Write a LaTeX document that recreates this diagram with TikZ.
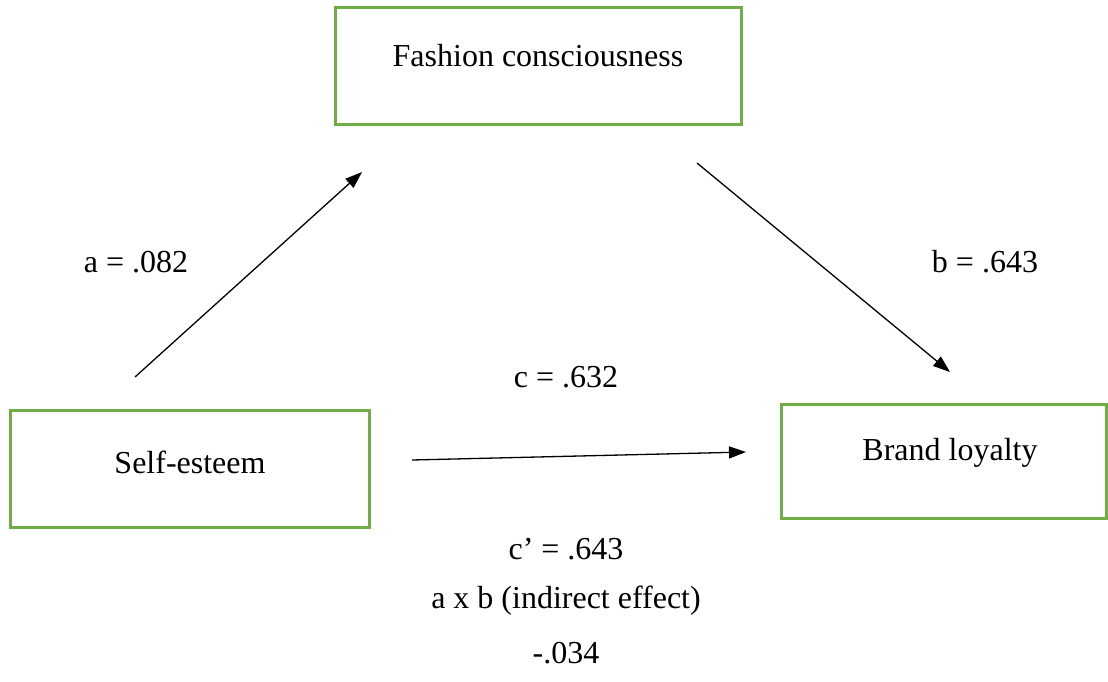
\documentclass[tikz,border=0pt]{standalone}
\usepackage{fontspec}
\setmainfont{Liberation Serif}
\usetikzlibrary{arrows.meta}
\definecolor{boxgreen}{RGB}{112,173,71}
\begin{document}
\begin{tikzpicture}[x=1pt,y=-1pt,
  varbox/.style={draw=boxgreen,line width=3pt,fill=white},
  txt/.style={font=\fontsize{32}{38}\selectfont,inner sep=0pt},
  arr/.style={line width=1.3pt,-{Triangle[length=17pt,width=12pt]}}]
\useasboundingbox (0,0) rectangle (1108,681);
% boxes
\draw[varbox] (335,7) rectangle (741,124);
\node[txt] (fc) at (538,56) {Fashion consciousness};
\draw[varbox] (10,410) rectangle (369,527);
\node[txt] (se) at (190,462) {Self-esteem};
\draw[varbox] (781,404) rectangle (1106,518);
\node[txt] (bl) at (950,453) {Brand loyalty};
% connector endpoints
\coordinate (a1) at (135,377);
\coordinate (a2) at (362,172);
\coordinate (b1) at (697,163);
\coordinate (b2) at (950,372);
\coordinate (c1) at (412,460);
\coordinate (c2) at (746,452);
\draw[arr] (a1) -- (a2);
\draw[arr] (b1) -- (b2);
\draw[arr] (c1) -- (c2);
% labels
\node[txt] (la) at (136,262) {a = .082};
\node[txt] (lb) at (985,262) {b = .643};
\node[txt] (lc) at (566,377) {c = .632};
\node[txt] (lcp) at (566,549) {c’ = .643};
\node[txt] (lab) at (566,601) {a x b (indirect effect)};
\node[txt] (lind) at (566,653) {-.034};
\end{tikzpicture}
\end{document}
